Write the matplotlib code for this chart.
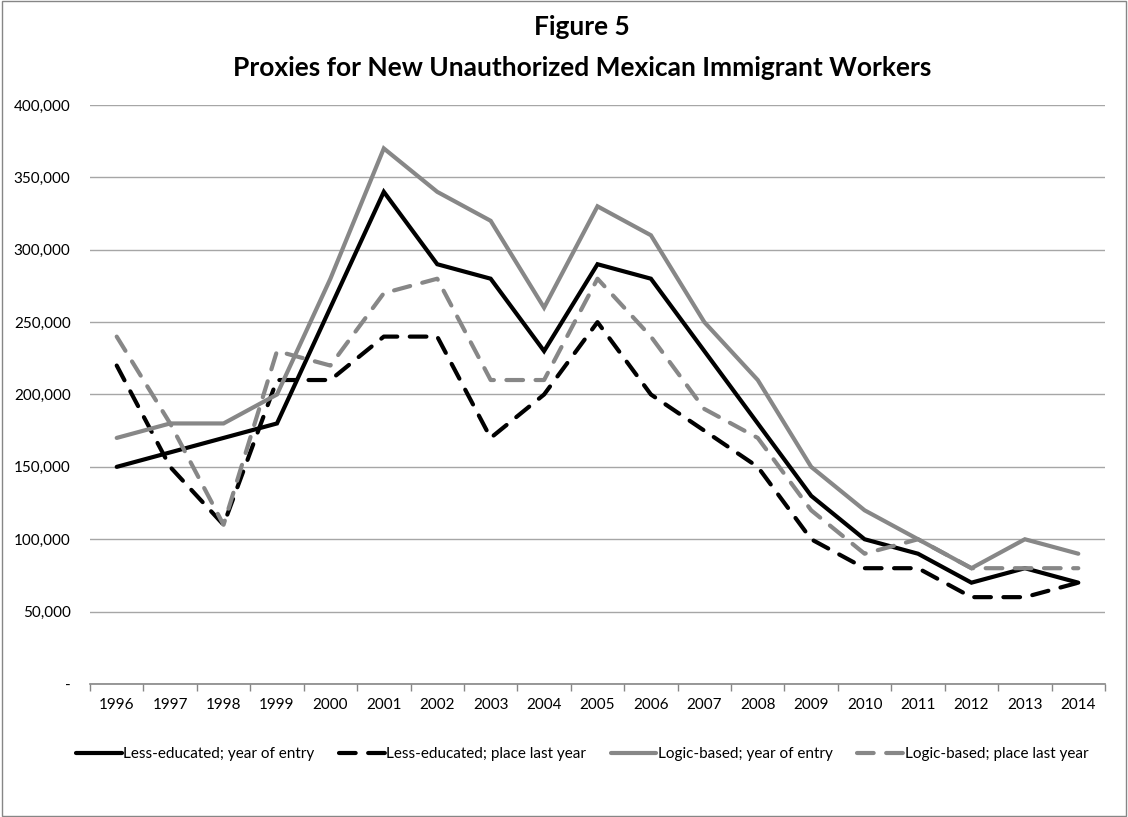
import numpy as np
import matplotlib.pyplot as plt
from matplotlib.patches import Rectangle
from matplotlib.ticker import FuncFormatter

plt.rcParams['font.family'] = ['Lato', 'DejaVu Sans']

years = [str(y) for y in range(1996, 2015)]

# series (workers)
less_edu_entry = [150000, 160000, 170000, 180000, 260000, 340000, 290000, 280000, 230000, 290000,
                  280000, 230000, 180000, 130000, 100000, 90000, 70000, 80000, 70000]
less_edu_place = [220000, 150000, 110000, 210000, 210000, 240000, 240000, 170000, 200000, 250000,
                  200000, 175000, 150000, 100000, 80000, 80000, 60000, 60000, 70000]
logic_entry = [170000, 180000, 180000, 200000, 280000, 370000, 340000, 320000, 260000, 330000,
               310000, 250000, 210000, 150000, 120000, 100000, 80000, 100000, 90000]
logic_place = [240000, 180000, 110000, 230000, 220000, 270000, 280000, 210000, 210000, 280000,
               240000, 190000, 170000, 120000, 90000, 100000, 80000, 80000, 80000]

labels = ['Less-educated; year of entry', 'Less-educated; place last year',
          'Logic-based; year of entry', 'Logic-based; place last year']

black = '#000000'
gray = '#878787'

fig = plt.figure(figsize=(11.28, 8.17), dpi=100)
ax = fig.add_axes([90/1128, 1 - 684/817, (1105 - 90)/1128, (684 - 105)/817])

x = np.arange(len(years))
lw = 3.0
ax.plot(x, less_edu_entry, color=black, lw=lw, solid_capstyle='round', solid_joinstyle='miter', label=labels[0])
ax.plot(x, less_edu_place, color=black, lw=lw, dashes=(4, 3), dash_capstyle='round', label=labels[1])
ax.plot(x, logic_entry, color=gray, lw=lw, solid_capstyle='round', solid_joinstyle='miter', label=labels[2])
ax.plot(x, logic_place, color=gray, lw=lw, dashes=(4, 3), dash_capstyle='round', label=labels[3])

ax.set_xlim(-0.5, len(years) - 0.5)
ax.set_ylim(0, 400000)
ax.set_yticks(np.arange(0, 400001, 50000))
ax.yaxis.set_major_formatter(FuncFormatter(lambda v, p: '-' if v == 0 else f'{int(v):,}'))
ax.grid(axis='y', color='#a6a6a6', lw=1.0)
ax.set_axisbelow(True)

ax.set_xticks(x)
ax.set_xticklabels(years)
ax.set_xticks(np.arange(-0.5, len(years)), minor=True)
ax.tick_params(axis='x', which='major', length=0, pad=10, labelsize=11)
ax.tick_params(axis='x', which='minor', length=5, color='#868686', width=1)
ax.tick_params(axis='y', length=0, pad=14, labelsize=11)

for s in ['top', 'right', 'left']:
    ax.spines[s].set_visible(False)
ax.spines['bottom'].set_color('#868686')
ax.spines['bottom'].set_linewidth(1.2)

fig.text(0.516, 1 - 27/817, 'Figure 5', ha='center', va='center', fontsize=19, fontweight='bold')
fig.text(0.516, 1 - 68/817, 'Proxies for New Unauthorized Mexican Immigrant Workers',
         ha='center', va='center', fontsize=19, fontweight='bold')

fig.legend(loc='center', bbox_to_anchor=(582/1128, 1 - 754/817), ncol=4, frameon=False,
           fontsize=11, handlelength=3.0, handletextpad=0.1, columnspacing=1.6)

fig.patches.append(Rectangle((0.002, 0.001), 0.996, 0.998, transform=fig.transFigure,
                             fill=False, edgecolor='#868686', lw=1.0))

fig.savefig('out.png', dpi=100)
